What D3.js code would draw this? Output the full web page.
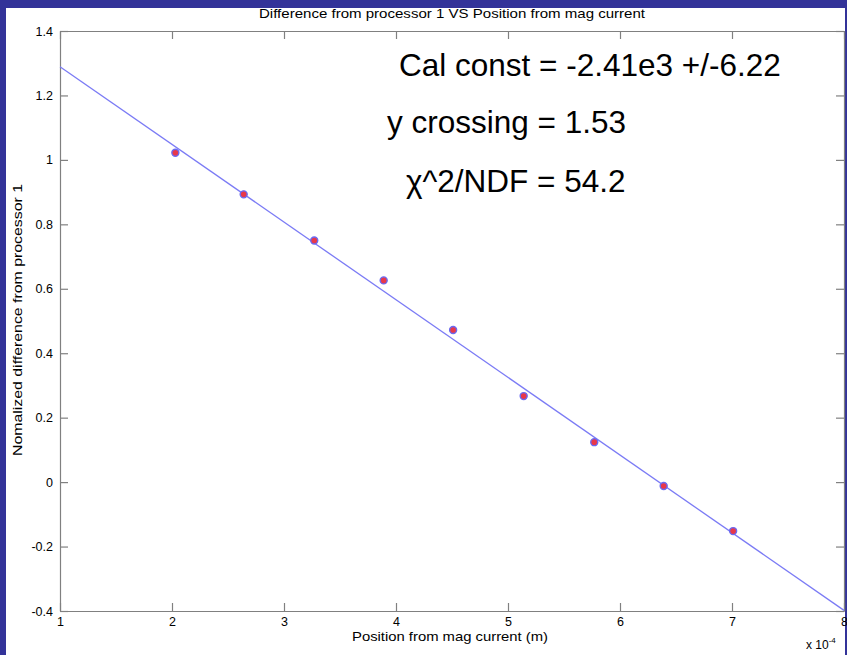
<!DOCTYPE html>
<html>
<head>
<meta charset="utf-8">
<script src="https://cdn.jsdelivr.net/npm/d3@7"></script>
<style>
  html, body { margin: 0; padding: 0; background: #333399; }
  svg { display: block; }
  text { font-family: "Liberation Sans", Arial, Helvetica, sans-serif; }
</style>
</head>
<body>
<svg id="chart" width="847" height="655"></svg>
<script>
// ---- data (x in units of 1e-4 m) ----
const posX = [2.03, 2.64, 3.27, 3.89, 4.51, 5.14, 5.77, 6.39, 7.01];
const diffY = [1.022, 0.893, 0.750, 0.626, 0.472, 0.267, 0.124, -0.012, -0.152];
const fitX = [1, 8];
const fitY = [1.289, -0.398];
const xTicks = [1, 2, 3, 4, 5, 6, 7, 8];
const yTicks = [-0.4, -0.2, 0, 0.2, 0.4, 0.6, 0.8, 1, 1.2, 1.4];
const titleText = "Difference from processor 1 VS Position from mag current";
const xLabelText = "Position from mag current (m)";
const yLabelText = "Nomalized difference from processor 1";
const annotations = ["Cal const = -2.41e3 +/-6.22", "y crossing = 1.53", "\u03c7^2/NDF = 54.2"];

(function () {
const svg = d3.select("#chart");
const W = 847, H = 655;

// slide background + white figure
svg.append("rect").attr("width", W).attr("height", H).attr("fill", "#333399");
svg.append("rect").attr("x", 6).attr("y", 8).attr("width", 839).attr("height", H - 8).attr("fill", "#ffffff");

const mLeft = 60, mRight = 844, mTop = 31, mBottom = 611;
const x = d3.scaleLinear().domain([1, 8]).range([mLeft, mRight]);
const y = d3.scaleLinear().domain([-0.4, 1.4]).range([mBottom, mTop]);

const axisColor = "#808080";
function styleAxis(g) {
  g.selectAll("path.domain").attr("stroke", axisColor).attr("stroke-width", 1.2);
  g.selectAll(".tick line").attr("stroke", axisColor).attr("stroke-width", 1.2);
  g.selectAll(".tick text").attr("fill", "#000").attr("font-size", "12.5px")
    .attr("font-family", "'Liberation Sans', Arial, sans-serif");
}

// bottom axis
const gx = svg.append("g").attr("transform", `translate(0,${mBottom})`)
  .call(d3.axisBottom(x).tickValues(xTicks).tickSize(-8).tickSizeOuter(0).tickPadding(6).tickFormat(d3.format("d")));
styleAxis(gx);
// top axis
const gxt = svg.append("g").attr("transform", `translate(0,${mTop})`)
  .call(d3.axisTop(x).tickValues(xTicks).tickSize(-8).tickSizeOuter(0).tickFormat(""));
styleAxis(gxt);
// left axis
const gy = svg.append("g").attr("transform", `translate(${mLeft},0)`)
  .call(d3.axisLeft(y).tickValues(yTicks).tickSize(-8).tickSizeOuter(0).tickPadding(7).tickFormat(d => String(+d.toFixed(1))));
styleAxis(gy);
// right axis
const gyr = svg.append("g").attr("transform", `translate(${mRight},0)`)
  .call(d3.axisRight(y).tickValues(yTicks).tickSize(-8).tickSizeOuter(0).tickFormat(""));
styleAxis(gyr);

// fit line
const line = d3.line().x(d => x(d[0])).y(d => y(d[1]));
svg.append("path")
  .datum(d3.zip(fitX, fitY))
  .attr("d", line)
  .attr("fill", "none")
  .attr("stroke", "#7b7bf5")
  .attr("stroke-width", 1.3);

// data points
svg.append("g").selectAll("circle")
  .data(d3.zip(posX, diffY))
  .join("circle")
  .attr("cx", d => x(d[0]))
  .attr("cy", d => y(d[1]))
  .attr("r", 3.5)
  .attr("fill", "#e8384a")
  .attr("stroke", "#6a6af2")
  .attr("stroke-width", 1.4);

// title
svg.append("text").attr("x", 452).attr("y", 18).attr("text-anchor", "middle")
  .attr("font-size", "13px").attr("fill", "#000")
  .attr("textLength", 386).attr("lengthAdjust", "spacingAndGlyphs")
  .text(titleText);

// x label
svg.append("text").attr("x", 450).attr("y", 641).attr("text-anchor", "middle")
  .attr("font-size", "13.5px").attr("fill", "#000")
  .attr("textLength", 196).attr("lengthAdjust", "spacingAndGlyphs")
  .text(xLabelText);

// x 10^-4
const mult = svg.append("text").attr("x", 806).attr("y", 649).attr("font-size", "12px").attr("fill", "#000");
mult.append("tspan").text("x 10");
mult.append("tspan").attr("dy", -6).attr("font-size", "8px").text("-4");

// y label
svg.append("text")
  .attr("transform", `translate(22,320) rotate(-90)`)
  .attr("text-anchor", "middle")
  .attr("font-size", "13.5px").attr("fill", "#000")
  .attr("textLength", 272).attr("lengthAdjust", "spacingAndGlyphs")
  .text(yLabelText);

// annotations
const annX = [399, 387, 406];
const annY = [76, 133, 192];
annotations.forEach((t, i) => {
  svg.append("text").attr("x", annX[i]).attr("y", annY[i])
    .attr("font-size", "31.5px").attr("fill", "#000").text(t);
});
})();
</script>
</body>
</html>
